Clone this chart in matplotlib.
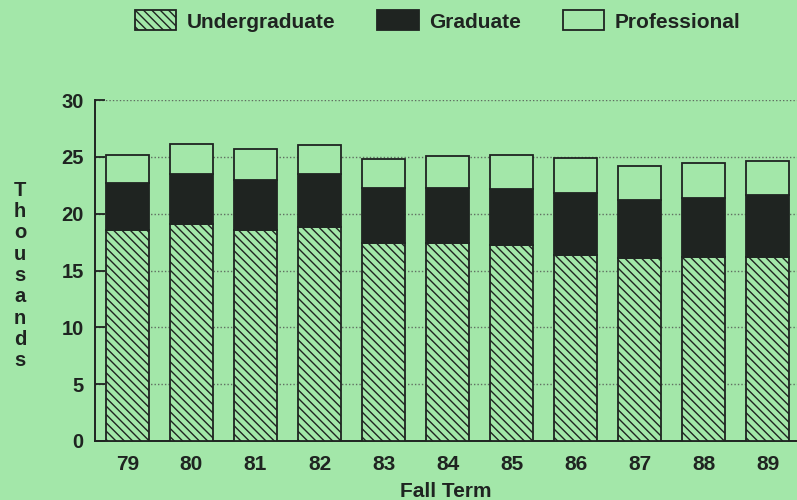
#!/usr/bin/env python3
"""Fall term enrollment by level, stacked bars (thousands)"""

import matplotlib
matplotlib.use('Agg')
import matplotlib.pyplot as plt
import numpy as np

# Data (thousands of students)
years = ['79', '80', '81', '82', '83', '84', '85', '86', '87', '88', '89']
undergraduate = [18.6, 19.1, 18.6, 18.8, 17.4, 17.4, 17.2, 16.4, 16.1, 16.2, 16.2]
graduate = [4.1, 4.4, 4.4, 4.65, 4.9, 4.9, 5.0, 5.4, 5.1, 5.2, 5.4]
professional = [2.5, 2.6, 2.7, 2.55, 2.5, 2.8, 3.0, 3.1, 3.0, 3.1, 3.0]
yticks = [0, 5, 10, 15, 20, 25, 30]

BG = '#a3e7a9'
INK = '#1f2421'

plt.rcParams['font.family'] = ['Liberation Sans', 'DejaVu Sans']
plt.rcParams['font.weight'] = 'bold'
plt.rcParams['hatch.linewidth'] = 1.0

fig = plt.figure(figsize=(7.97, 5.0), dpi=100, facecolor=BG)
ax = fig.add_axes([0.119, 0.118, 0.881, 0.682], facecolor=BG)

x = np.arange(len(years))
w = 0.67
ug = np.array(undergraduate)
gr = np.array(graduate)
pr = np.array(professional)

b1 = ax.bar(x, ug, w, color=BG, edgecolor=INK, hatch='\\\\\\\\', linewidth=1.3,
            label='Undergraduate', zorder=3)
b2 = ax.bar(x, gr, w, bottom=ug, color=INK, edgecolor=INK, linewidth=1.3,
            label='Graduate', zorder=3)
b3 = ax.bar(x, pr, w, bottom=ug + gr, color=BG, edgecolor=INK, linewidth=1.3,
            label='Professional', zorder=3)

ax.set_xlim(-0.51, 10.46)
ax.set_ylim(0, 30)
ax.set_yticks(yticks)
ax.set_xticks(x)
ax.set_xticklabels(years)

# dotted grid
ax.yaxis.grid(True, linestyle=(0, (1, 1.5)), color='#5f6e61', linewidth=1.0, zorder=1)
ax.set_axisbelow(True)

for s in ['top', 'right']:
    ax.spines[s].set_visible(False)
ax.spines['left'].set_color(INK)
ax.spines['bottom'].set_color(INK)
ax.spines['left'].set_linewidth(1.4)
ax.spines['bottom'].set_linewidth(1.4)

ax.tick_params(axis='y', direction='in', length=7, width=1.3, color=INK,
               labelsize=14.5, labelcolor=INK, pad=8)
ax.tick_params(axis='x', length=0, labelsize=15, labelcolor=INK, pad=10)

ax.set_xlabel('Fall Term', fontsize=15, color=INK, fontweight='bold', labelpad=6)

# stacked vertical axis label
fig.text(0.025, 0.449, '\n'.join('Thousands'), ha='center', va='center',
         fontsize=14.5, color=INK, fontweight='bold', linespacing=1.15)

fig.legend(handles=[b1, b2, b3], loc='center', bbox_to_anchor=(0.549, 0.958),
           ncol=3, frameon=False, fontsize=15, handlelength=2.0, handleheight=1.1,
           handletextpad=0.5, columnspacing=2.0, labelcolor=INK)

fig.savefig('out.png', dpi=100, facecolor=BG)
